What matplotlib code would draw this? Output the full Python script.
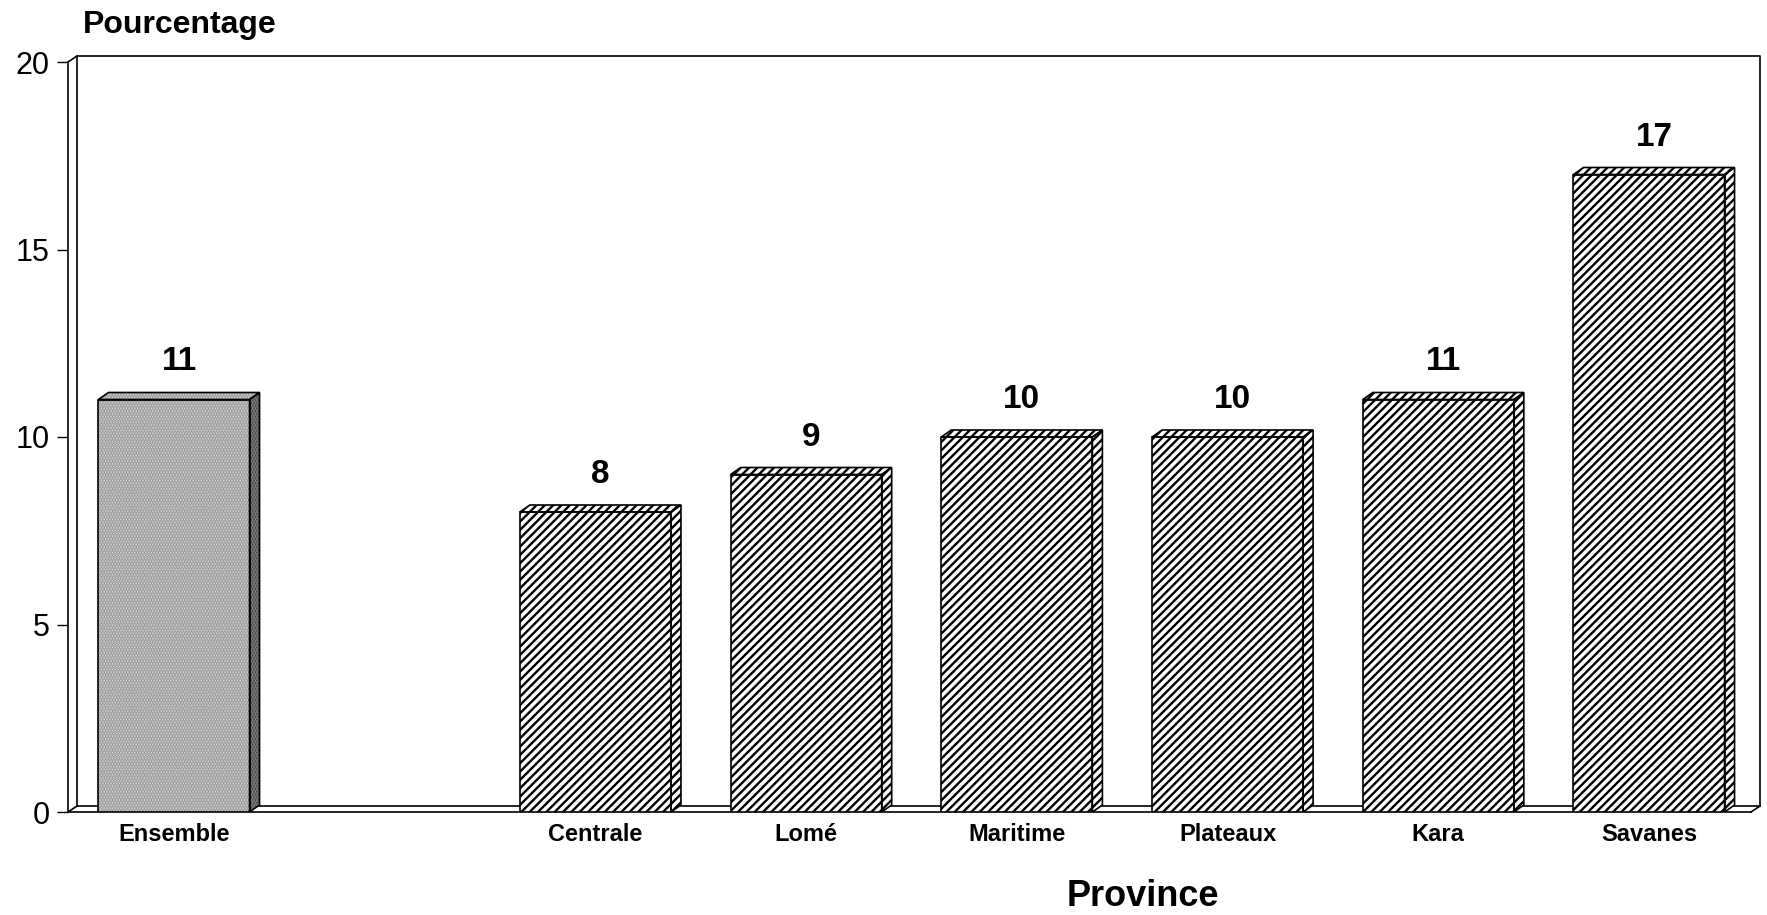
import numpy as np
import matplotlib.pyplot as plt
from matplotlib.patches import Polygon
from matplotlib.transforms import ScaledTranslation

plt.rcParams['font.family'] = ['Liberation Sans', 'DejaVu Sans']
plt.rcParams['hatch.linewidth'] = 1.7

# data (slot 1 is left empty between Ensemble and the provinces)
provinces = ["Ensemble", "Centrale", "Lomé", "Maritime", "Plateaux", "Kara", "Savanes"]
positions = [0, 2, 3, 4, 5, 6, 7]
values = [11, 8, 9, 10, 10, 11, 17]

W, H, DPI = 1767, 915, 100
fig = plt.figure(figsize=(W / DPI, H / DPI), dpi=DPI)

# front frame of the pseudo-3D box, in pixels
x0, x1, y0, y1 = 68, 1751, 812, 62
ax = fig.add_axes([x0 / W, 1 - y0 / H, (x1 - x0) / W, (y0 - y1) / H])
ax.set_xlim(-0.503, 7.484)
ax.set_ylim(0, 20)

# depth of the box and of the bars, pixels
wall_dx, wall_dy = 9, 6
bar_dx, bar_dy = 10, 7
px_x = (x1 - x0) / (7.484 + 0.503)
px_y = (y0 - y1) / 20
ddx, ddy = bar_dx / px_x, bar_dy / px_y

for s in ["top", "right", "bottom"]:
    ax.spines[s].set_visible(False)
ax.spines["left"].set_linewidth(1.2)

# back wall / floor lines
back = ax.transAxes + ScaledTranslation(wall_dx / DPI, wall_dy / DPI, fig.dpi_scale_trans)
ax.plot([0, 0, 1, 1, 0], [0, 1, 1, 0, 0], transform=back, color="black", lw=1.2, clip_on=False)
ax.plot([0, 1], [0, 0], transform=ax.transAxes, color="black", lw=1.2, clip_on=False)
dxa, dya = wall_dx / (x1 - x0), wall_dy / (y0 - y1)
for cx, cy in [(0, 0), (0, 1), (1, 0)]:
    ax.plot([cx, cx + dxa], [cy, cy + dya], transform=ax.transAxes,
            color="black", lw=1.2, clip_on=False)

width = 0.717
for i, (x, v) in enumerate(zip(positions, values)):
    if i == 0:
        face, hatch, hcol, side = "#e4e4e4", "......", "#8a8a8a", "#333333"
    else:
        face, hatch, hcol, side = "white", "////", "black", "white"
    ax.bar(x, v, width=width, color=face, hatch=hatch, edgecolor=hcol, linewidth=0, zorder=3)
    ax.bar(x, v, width=width, fill=False, edgecolor="black", linewidth=1.2, zorder=4)
    l, r = x - width / 2, x + width / 2
    top = Polygon([(l, v), (l + ddx, v + ddy), (r + ddx, v + ddy), (r, v)],
                  closed=True, facecolor=face, hatch=hatch, edgecolor=hcol, lw=0, zorder=3)
    sidep = Polygon([(r, 0), (r + ddx, ddy), (r + ddx, v + ddy), (r, v)],
                    closed=True, facecolor=side, hatch=hatch, edgecolor=hcol, lw=0, zorder=3)
    ax.add_patch(top)
    ax.add_patch(sidep)
    for poly in [top, sidep]:
        ax.add_patch(Polygon(poly.get_xy(), closed=True, fill=False,
                             edgecolor="black", lw=1.2, zorder=4))
    ax.annotate(str(v), (x + ddx / 2, v), xytext=(0, 27), textcoords="offset points",
                ha="center", va="center", fontsize=24, fontweight="bold")

ax.set_yticks([0, 5, 10, 15, 20])
ax.tick_params(axis="y", direction="out", length=8, width=1, pad=5, labelsize=22)
ax.set_xticks(positions)
ax.set_xticklabels(provinces, fontsize=17, fontweight="bold")
ax.tick_params(axis="x", length=0, pad=8)

fig.text(83 / W, 1 - 25 / H, "Pourcentage", ha="left", va="center",
         fontsize=23, fontweight="bold")
fig.text(1143 / W, 1 - 897 / H, "Province", ha="center", va="center",
         fontsize=26, fontweight="bold")

fig.savefig("out.png", dpi=DPI)
